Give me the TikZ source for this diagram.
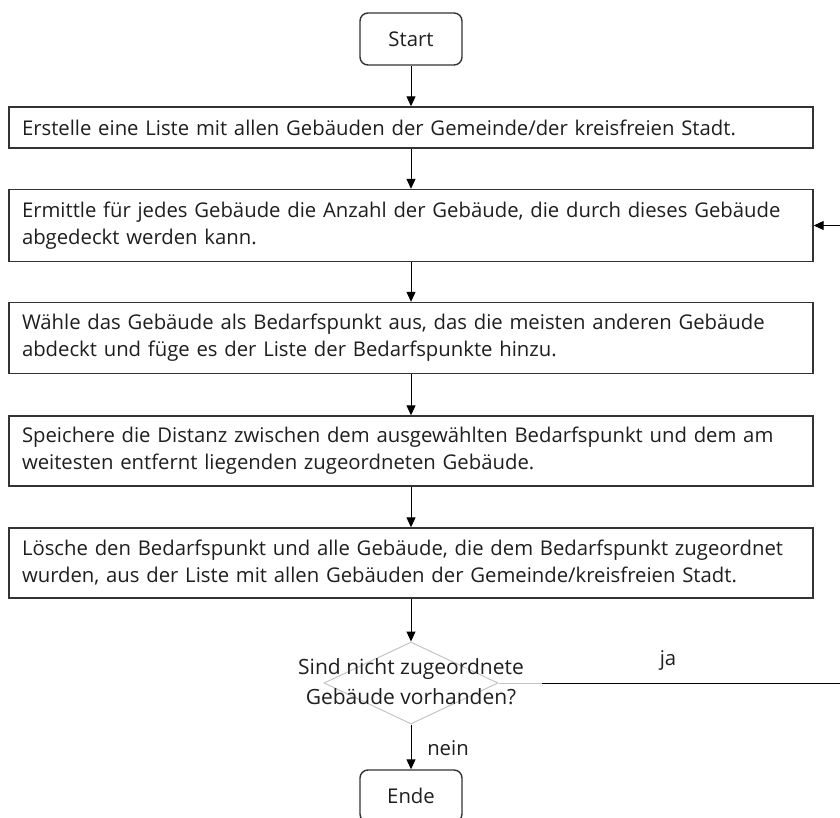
\documentclass[tikz,border=0pt]{standalone}
\usepackage{fontspec}
\setmainfont{Open Sans}
\usetikzlibrary{arrows.meta,shapes.geometric}
\definecolor{ink}{HTML}{1E1E1E}
\definecolor{frame}{HTML}{333333}
\definecolor{pale}{HTML}{C4C4C4}
\begin{document}
\begin{tikzpicture}[x=1pt,y=-1pt,
  every node/.style={font=\fontsize{20.3}{27}\selectfont, text=ink},
  terminal/.style={draw=frame, line width=1.4pt, rounded corners=8pt,
    minimum width=102pt, minimum height=52pt, inner sep=0pt},
  stepbox/.style={draw=frame, line width=1.4pt, minimum width=804pt,
    text width=778pt, align=left, inner xsep=13pt, inner ysep=0pt},
  decision/.style={diamond, draw=pale, line width=1pt, inner sep=0pt,
    minimum width=174pt, minimum height=82pt},
  flow/.style={draw=black, line width=1pt, -{Triangle[length=10pt,width=9pt]}},
  lbl/.style={inner sep=0pt}
]
\useasboundingbox (0,0) rectangle (840,818);

% terminals
\node[terminal] (start) at (411,39) {Start};
\node[terminal] (ende) at (411,796) {Ende};

% process steps
\node[stepbox, minimum height=41pt] (b1) at (411,127.5)
  {Erstelle eine Liste mit allen Gebäuden der Gemeinde/der kreisfreien Stadt.};
\node[stepbox, minimum height=72pt] (b2) at (411,225.5)
  {Ermittle für jedes Gebäude die Anzahl der Gebäude, die durch dieses Gebäude\\
   abgedeckt werden kann.};
\node[stepbox, minimum height=71pt] (b3) at (411,338)
  {Wähle das Gebäude als Bedarfspunkt aus, das die meisten anderen Gebäude\\
   abdeckt und füge es der Liste der Bedarfspunkte hinzu.};
\node[stepbox, minimum height=70pt] (b4) at (411,451)
  {Speichere die Distanz zwischen dem ausgewählten Bedarfspunkt und dem am\\
   weitesten entfernt liegenden zugeordneten Gebäude.};
\node[stepbox, minimum height=70pt] (b5) at (411,563)
  {Lösche den Bedarfspunkt und alle Gebäude, die dem Bedarfspunkt zugeordnet\\
   wurden, aus der Liste mit allen Gebäuden der Gemeinde/kreisfreien Stadt.};

% decision
\node[decision] (q) at (411,683) {};
\node[align=center, inner sep=0pt, font=\fontsize{21}{30}\selectfont] (qtext) at (411,682)
  {Sind nicht zugeordnete\\Gebäude vorhanden?};

% main flow
\draw[flow] (start) -- (b1);
\draw[flow] (b1) -- (b2);
\draw[flow] (b2) -- (b3);
\draw[flow] (b3) -- (b4);
\draw[flow] (b4) -- (b5);
\draw[flow] (b5) -- (q.north);
\draw[flow] (q.south) -- (ende);

% loop back ("ja")
\coordinate (jbend) at (542,683);
\coordinate (rt) at (852,683);
\draw[draw=pale, line width=1pt] (q.east) -- (jbend);
\draw[flow] (jbend) -- (rt) |- (b2.east);

% labels
\node[lbl] (ja) at (668,660) {ja};
\node[lbl] (nein) at (448,748) {nein};
\end{tikzpicture}
\end{document}
